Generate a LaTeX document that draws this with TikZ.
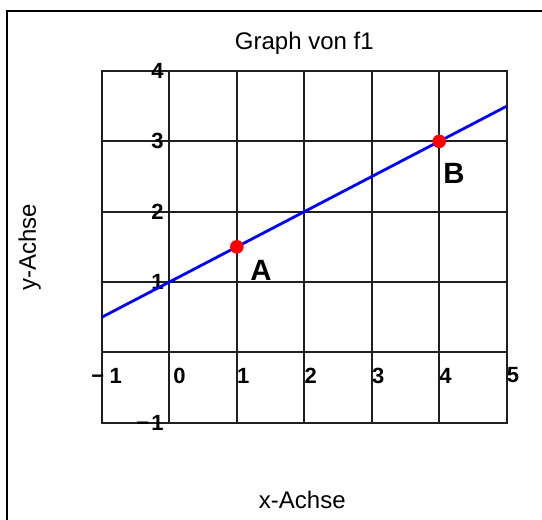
\documentclass[tikz,border=0pt]{standalone}
\usepackage{fontspec}
\setmainfont{Liberation Sans}
\usetikzlibrary{positioning}

\begin{document}
\begin{tikzpicture}[
    x=50.59pt, y=52.73pt,
    every node/.style={inner sep=0pt},
    frameline/.style={line width=2pt, black},
    gridline/.style={line width=1.4pt, black!88, line cap=rect},
    graphline/.style={line width=2.1pt, blue},
    dot/.style={circle, fill=red, minimum size=10.2pt},
    ticklabel/.style={font=\fontsize{16.5}{16.5}\selectfont\bfseries},
    axislabel/.style={font=\fontsize{18}{18}\selectfont},
    ptlabel/.style={font=\fontsize{22}{22}\selectfont\bfseries}
  ]
  \useasboundingbox (-2.511,-2.385) rectangle (5.524,5.011);

  % frame
  \draw[frameline] (-2.408,-2.6) -- (-2.408,4.855) -- (5.7,4.855);

  % grid
  \foreach \gx in {-1,...,5} \draw[gridline] (\gx,-1) -- (\gx,4);
  \foreach \gy in {-1,...,4} \draw[gridline] (-1,\gy) -- (5,\gy);

  % tick labels
  \foreach \gx in {1,...,5} \node[ticklabel, anchor=west] (xt\gx) at (\gx,-0.33) {\gx};
  \node[ticklabel, anchor=west] (xt0) at (0.055,-0.33) {0};
  \node[ticklabel, anchor=west] (xtm1) at (-1.162,-0.33) {−\hspace{0.25em}1};
  \foreach \gy in {1,...,4} \node[ticklabel, anchor=east] (yt\gy) at (-0.08,\gy) {\gy};
  \node[ticklabel, anchor=east] (ytm1) at (-0.08,-1) {−\hspace{0.1em}1};

  % graph
  \coordinate (gstart) at (-1,0.5);
  \coordinate (gend) at (5,3.5);
  \draw[graphline] (gstart) -- (gend);
  \node[dot] (ptA) at (1,1.5) {};
  \node[dot] (ptB) at (4,3) {};
  \node[ptlabel] (labA) at (1.358,1.171) {A};
  \node[ptlabel] (labB) at (4.219,2.551) {B};

  % titles
  \node[axislabel, anchor=base] (title) at (2,4.30) {Graph von f1};
  \node[axislabel, anchor=base] (xlab) at (1.97,-2.215) {x-Achse};
  \node[axislabel, anchor=base, rotate=90] (ylab) at (-1.978,1.49) {y-Achse};
\end{tikzpicture}
\end{document}
